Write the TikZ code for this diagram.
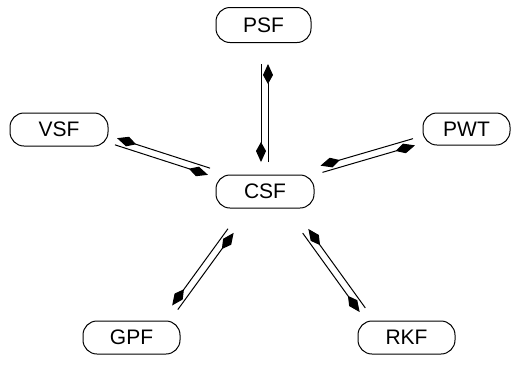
\documentclass[tikz,border=0pt]{standalone}
\usepackage{fontspec}
\setmainfont{Liberation Sans}
\usetikzlibrary{arrows.meta,calc}
\tikzset{
  box/.style={draw, line width=1pt, rounded corners=14pt, inner sep=0pt,
    minimum height=33pt, minimum width=97pt, font=\fontsize{21}{24}\selectfont},
  link/.style={line width=1pt},
  >={Kite[length=20pt,width=10pt,inset=9pt]}
}
\newcommand\duallink[2]{%
  \draw[link,->] ($(#1)!3.5pt!-90:(#2)$) -- ($(#2)!3.5pt!90:(#1)$);
  \draw[link,<-] ($(#1)!3.5pt!90:(#2)$) -- ($(#2)!3.5pt!-90:(#1)$);
}
\begin{document}
\begin{tikzpicture}[x=1pt,y=-1pt]
\useasboundingbox (0,0) rectangle (512,365);
\node[box, minimum width=95pt, minimum height=35pt] (psf) at (263.5,25) {PSF};
\node[box, minimum width=98pt] (vsf) at (59,129.5) {VSF};
\node[box, minimum width=98pt] (csf) at (265,191.5) {CSF};
\node[box, minimum width=87pt, minimum height=32pt] (pwt) at (466.5,129) {PWT};
\node[box] (gpf) at (131.5,337.5) {GPF};
\node[box] (rkf) at (406.5,337.5) {RKF};
% connector end points
\coordinate (psfA) at (264.5,162);
\coordinate (psfB) at (264.5,64);
\coordinate (vsfA) at (209,171.5);
\coordinate (vsfB) at (116,141.5);
\coordinate (pwtA) at (321.5,169);
\coordinate (pwtB) at (414,142);
\coordinate (gpfA) at (230.8,230.8);
\coordinate (gpfB) at (175,307.5);
\coordinate (rkfA) at (305.5,231);
\coordinate (rkfB) at (362.5,310);
\duallink{psfA}{psfB}
\duallink{vsfA}{vsfB}
\duallink{pwtA}{pwtB}
\duallink{gpfA}{gpfB}
\duallink{rkfA}{rkfB}
\end{tikzpicture}
\end{document}
